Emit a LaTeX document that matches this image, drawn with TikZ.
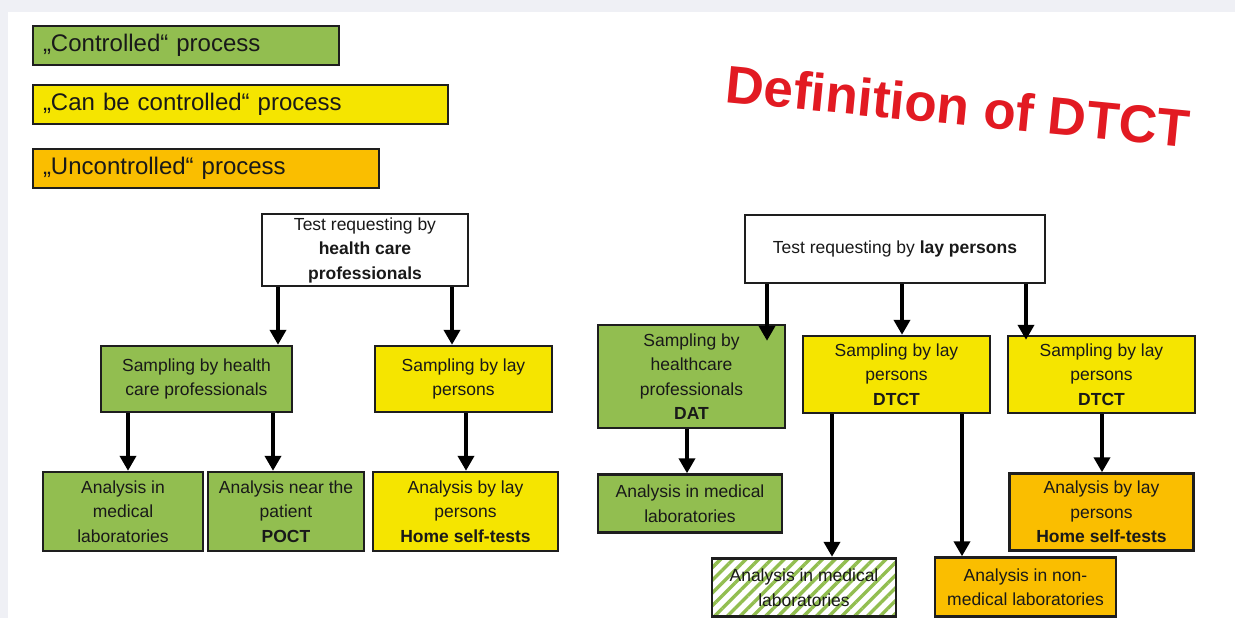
\documentclass[tikz,border=0pt]{standalone}
\usepackage{fontspec}
\setmainfont{Liberation Sans}
\usetikzlibrary{arrows.meta,patterns.meta,calc}
\definecolor{bgGrey}{RGB}{239,240,245}
\definecolor{ctrlGreen}{RGB}{146,190,80}
\definecolor{canYellow}{RGB}{245,229,0}
\definecolor{unOrange}{RGB}{250,190,0}
\definecolor{titleRed}{RGB}{226,26,34}
\definecolor{boxline}{RGB}{30,30,30}
\definecolor{txt}{RGB}{25,25,25}
\begin{document}
\begin{tikzpicture}[x=1pt,y=-1pt,
  box/.style={draw=boxline, line width=2.4pt, inner sep=0pt, align=center, text=txt,
    font=\fontsize{17.5}{24.5}\selectfont},
  legbox/.style={draw=boxline, line width=1.8pt, inner sep=0pt, align=left, text=txt,
    font=\fontsize{24}{27}\selectfont},
  arr/.style={line width=3.8pt, draw=black, -{Triangle[length=15pt,width=16pt]}},
  hatch/.style={pattern={Lines[angle=45,distance=9pt,line width=3.4pt]}, pattern color=ctrlGreen}
]
\useasboundingbox (0,0) rectangle (1235,618);
\fill[bgGrey] (0,0) rectangle (1235,618);
\fill[white] (8,12) rectangle (1235,618);

% legend
\node[legbox, fill=ctrlGreen, minimum width=306pt, minimum height=39pt, text width=286pt] (lg1) at (186,45.5) {„Controlled“ process};
\node[legbox, fill=canYellow, minimum width=415pt, minimum height=39pt, text width=395pt] (lg2) at (240.5,104.5) {„Can be controlled“ process};
\node[legbox, fill=unOrange, minimum width=346pt, minimum height=39pt, text width=326pt] (lg3) at (206,168.5) {„Uncontrolled“ process};

% title
\node[text=titleRed, font=\bfseries\fontsize{53}{60}\selectfont, rotate=-5.6, inner sep=0pt] (title) at (958,106) {Definition of DTCT};

% left tree
\node[box, fill=white, minimum width=206pt, minimum height=72pt] (tl) at (365,250) {Test requesting by\\\textbf{health care}\\\textbf{professionals}};
\node[box, fill=ctrlGreen, minimum width=191pt, minimum height=66pt] (sl1) at (196.5,379) {Sampling by health\\care professionals};
\node[box, fill=canYellow, minimum width=177pt, minimum height=66pt] (sl2) at (463.5,379) {Sampling by lay\\persons};
\node[box, fill=ctrlGreen, minimum width=160pt, minimum height=79pt] (al1) at (123,511.5) {Analysis in\\medical\\laboratories};
\node[box, fill=ctrlGreen, minimum width=156pt, minimum height=79pt] (al2) at (286,511.5) {Analysis near the\\patient\\\textbf{POCT}};
\node[box, fill=canYellow, minimum width=185pt, minimum height=79pt] (al3) at (465.5,511.5) {Analysis by lay\\persons\\\textbf{Home self-tests}};

% right tree
\node[box, fill=white, minimum width=300pt, minimum height=68pt] (tr) at (895,249) {Test requesting by \textbf{lay persons}};
\node[box, fill=ctrlGreen, minimum width=187pt, minimum height=103pt] (sr1) at (691.5,376.5) {Sampling by\\healthcare\\professionals\\\textbf{DAT}};
\node[box, fill=canYellow, minimum width=187pt, minimum height=77pt] (sr2) at (896.5,374.5) {Sampling by lay\\persons\\\textbf{DTCT}};
\node[box, fill=canYellow, minimum width=187pt, minimum height=77pt] (sr3) at (1101.5,374.5) {Sampling by lay\\persons\\\textbf{DTCT}};
\node[box, fill=ctrlGreen, minimum width=184pt, minimum height=58pt] (ar1) at (690,503.5) {Analysis in medical\\laboratories};
\node[box, fill=white, minimum width=184pt, minimum height=58pt] (ar2bg) at (804,587.5) {};
\node[box, hatch, minimum width=184pt, minimum height=58pt] (ar2) at (804,587.5) {Analysis in medical\\laboratories};
\node[box, fill=unOrange, minimum width=181pt, minimum height=59pt] (ar3) at (1025.5,587) {Analysis in non-\\medical laboratories};
\node[box, fill=unOrange, minimum width=184pt, minimum height=77pt] (ar4) at (1101.5,512) {Analysis by lay\\persons\\\textbf{Home self-tests}};

% arrows left
\draw[arr] (tl.south -| 278,0) -- (sl1.north -| 278,0);
\draw[arr] (tl.south -| 452,0) -- (sl2.north -| 452,0);
\draw[arr] (sl1.south -| 128,0) -- (al1.north -| 128,0);
\draw[arr] (sl1.south -| 273,0) -- (al2.north -| 273,0);
\draw[arr] (sl2.south -| 466,0) -- (al3.north -| 466,0);

% arrows right
\draw[arr] (tr.south -| 767,0) -- ($(sr1.north -| 767,0)+(0,17)$);
\draw[arr] (tr.south -| 902,0) -- (sr2.north -| 902,0);
\draw[arr] (tr.south -| 1026,0) -- ($(sr3.north -| 1026,0)+(0,5)$);
\draw[arr] (sr1.south -| 687,0) -- (ar1.north -| 687,0);
\draw[arr] (sr2.south -| 832,0) -- (ar2.north -| 832,0);
\draw[arr] (sr2.south -| 962,0) -- (ar3.north -| 962,0);
\draw[arr] (sr3.south -| 1102,0) -- (ar4.north -| 1102,0);
\end{tikzpicture}
\end{document}
